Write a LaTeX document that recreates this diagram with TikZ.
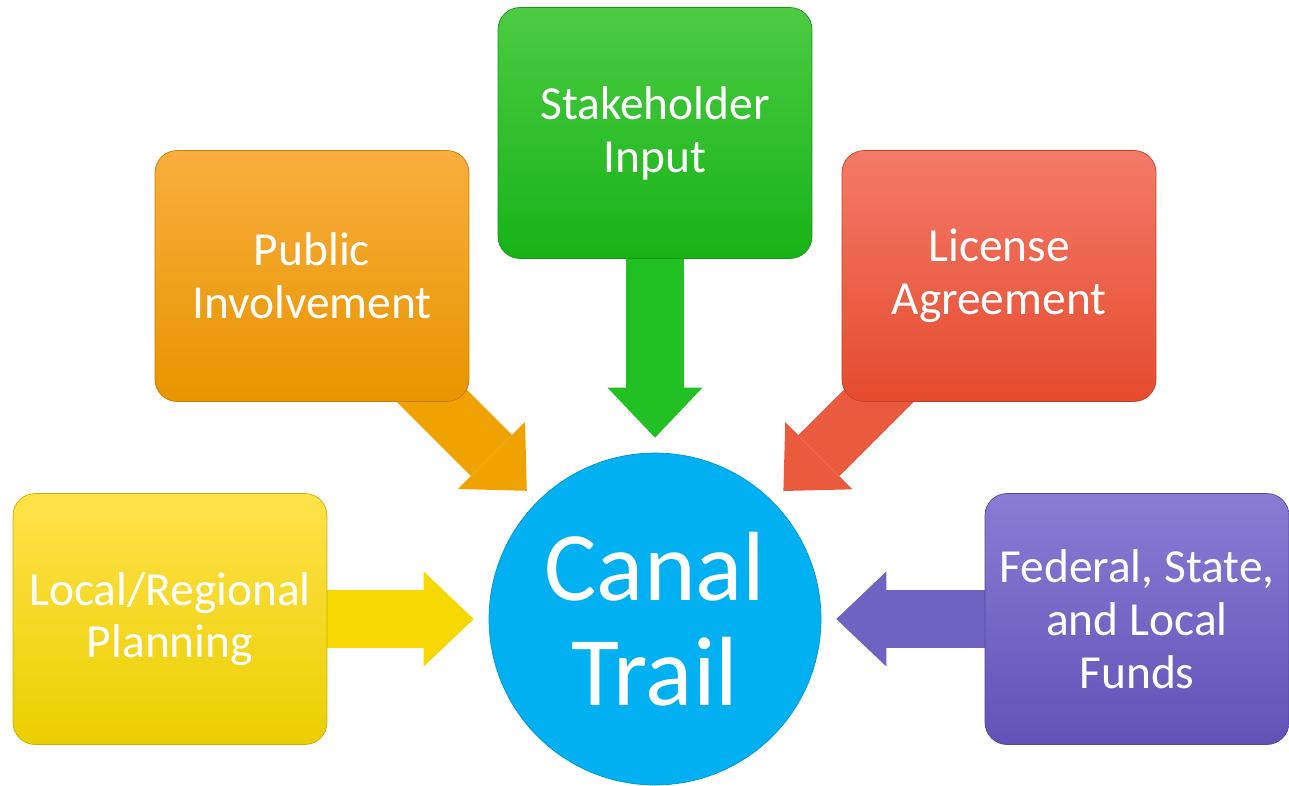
\documentclass[tikz,border=0pt]{standalone}
\usepackage{fontspec}
\setmainfont{Carlito}
\usepackage{tikz}
\usetikzlibrary{arrows.meta}
\usepackage{xcolor}
\definecolor{gialloA}{HTML}{FFE24A}
\definecolor{gialloB}{HTML}{EBCF00}
\definecolor{giallo}{HTML}{F7D800}
\definecolor{aranciaA}{HTML}{F8AE3C}
\definecolor{aranciaB}{HTML}{E89500}
\definecolor{arancia}{HTML}{EFA200}
\definecolor{verdeA}{HTML}{4CCB44}
\definecolor{verdeB}{HTML}{17B317}
\definecolor{verde}{HTML}{22C022}
\definecolor{rossoA}{HTML}{F47A68}
\definecolor{rossoB}{HTML}{E54B2E}
\definecolor{rosso}{HTML}{EA5A3C}
\definecolor{violaA}{HTML}{8A7CD4}
\definecolor{violaB}{HTML}{6252B6}
\definecolor{viola}{HTML}{7062C0}
\definecolor{azzurro}{HTML}{00B0F0}
\pgfdeclarelayer{sotto}
\pgfsetlayers{sotto,main}

\begin{document}
\begin{tikzpicture}[x=0.02cm, y=-0.02cm,
    riquadro/.style 2 args={rounded corners=0.44cm, minimum width=6.28cm, minimum height=5.02cm,
        top color=#1, bottom color=#2, draw=#2!85!black, line width=0.4pt,
        text=white, align=center, font=\fontsize{27}{30}\selectfont},
    freccia/.style={draw=#1, line width=1.16cm, shorten >=0.3cm,
        -{Triangle[length=1cm, width=1.9cm, line width=0pt]}}]
    % Parametri
    \pgfmathsetmacro{\cx}{655}
    \pgfmathsetmacro{\cy}{619}
    \useasboundingbox (0,0) rectangle (1289,785);
    % Cerchio centrale
    \node[circle, minimum size=6.64cm, inner sep=0pt, fill=azzurro, draw=azzurro!85!black,
        text=white, align=center, font=\fontsize{56}{60}\selectfont] (trail) at (\cx,\cy) {Canal\\Trail};
    % Riquadri
    \node[riquadro={gialloA}{gialloB}] (plan) at (170,\cy) {Local/Regional\\Planning};
    \node[riquadro={aranciaA}{aranciaB}] (pub) at (312,276) {Public\\Involvement};
    \node[riquadro={verdeA}{verdeB}] (stake) at (\cx,133) {Stakeholder\\Input};
    \node[riquadro={rossoA}{rossoB}] (lic) at (999,276) {License\\Agreement};
    \node[riquadro={violaA}{violaB}, minimum width=6.08cm] (fund) at (1137,\cy) {Federal, State,\\and Local\\Funds};
    % Frecce
    \begin{pgfonlayer}{sotto}
        \draw[freccia=giallo] (plan.center) -- (trail);
        \draw[freccia=arancia] (pub.center) -- (trail);
        \draw[freccia=verde] (stake.center) -- (trail);
        \draw[freccia=rosso] (lic.center) -- (trail);
        \draw[freccia=viola] (fund.center) -- (trail);
    \end{pgfonlayer}
\end{tikzpicture}
\end{document}
